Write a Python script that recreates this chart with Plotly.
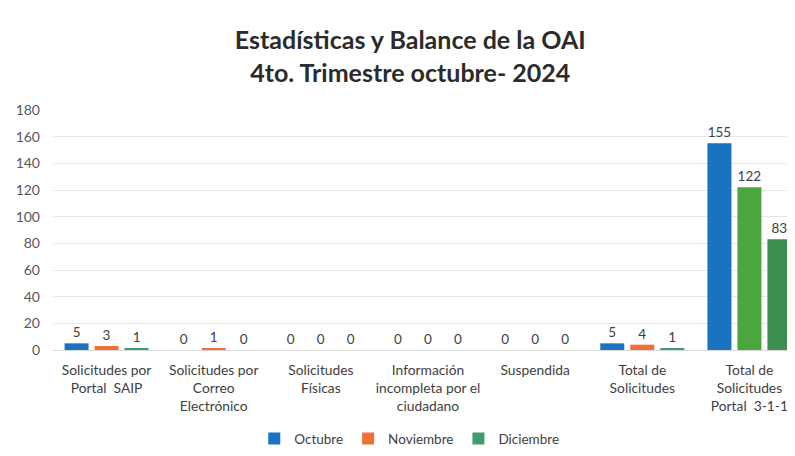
import plotly.graph_objects as go

categories = [
    "Solicitudes por<br>Portal  SAIP",
    "Solicitudes por<br>Correo<br>Electrónico",
    "Solicitudes<br>Físicas",
    "Información<br>incompleta por el<br>ciudadano",
    "Suspendida",
    "Total de<br>Solicitudes",
    "Total de<br>Solicitudes<br>Portal  3-1-1",
]
octubre = [5, 0, 0, 0, 0, 5, 155]
noviembre = [3, 1, 0, 0, 0, 4, 122]
diciembre = [1, 0, 0, 0, 0, 1, 83]
y_ticks = [0, 20, 40, 60, 80, 100, 120, 140, 160, 180]

col_oct = ["#1a72c0"] * 7
col_nov = ["#f07038"] * 6 + ["#4ca63e"]
col_dic = ["#3f9d6c"] * 6 + ["#3e8e52"]

font_fam = "Lato, 'Open Sans', sans-serif"
txt_col = "#404040"

fig = go.Figure()
for name, vals, cols in [("Octubre", octubre, col_oct),
                         ("Noviembre", noviembre, col_nov),
                         ("Diciembre", diciembre, col_dic)]:
    fig.add_trace(go.Bar(
        name=name, x=categories, y=vals,
        marker=dict(color=cols, line=dict(width=0)),
        text=[str(v) for v in vals], textposition="outside",
        textfont=dict(size=13.5, color=txt_col, family=font_fam),
        cliponaxis=False,
    ))

fig.update_layout(
    width=795, height=456,
    margin=dict(l=45, r=0, t=102, b=114),
    paper_bgcolor="white", plot_bgcolor="white",
    barmode="group", bargap=0.16, bargroupgap=0.2,
    font=dict(family=font_fam, color=txt_col),
    title=dict(
        text="<b>Estadísticas y Balance de la OAI<br>4to. Trimestre octubre- 2024</b>",
        x=0.506, xanchor="center", y=0.91, yanchor="middle",
        font=dict(size=25, color="#2b2b2b", family=font_fam),
    ),
    xaxis=dict(
        tickfont=dict(size=13.8, color=txt_col, family=font_fam),
        showgrid=False, showline=False, ticks="", ticklabelstandoff=10,
    ),
    yaxis=dict(
        range=[0, 180], tickvals=y_ticks,
        tickfont=dict(size=14, color="#595959", family=font_fam),
        showgrid=True, gridcolor="#e6e6e6", gridwidth=1,
        zeroline=True, zerolinecolor="#d9d9d9", zerolinewidth=1,
        ticks="", ticklabelstandoff=12,
    ),
    legend=dict(
        orientation="h", x=0.475, xanchor="center", y=-0.37, yanchor="middle",
        font=dict(size=13.5, color=txt_col, family=font_fam),
        itemwidth=30, traceorder="normal",
    ),
)

fig.write_html("out.html")
